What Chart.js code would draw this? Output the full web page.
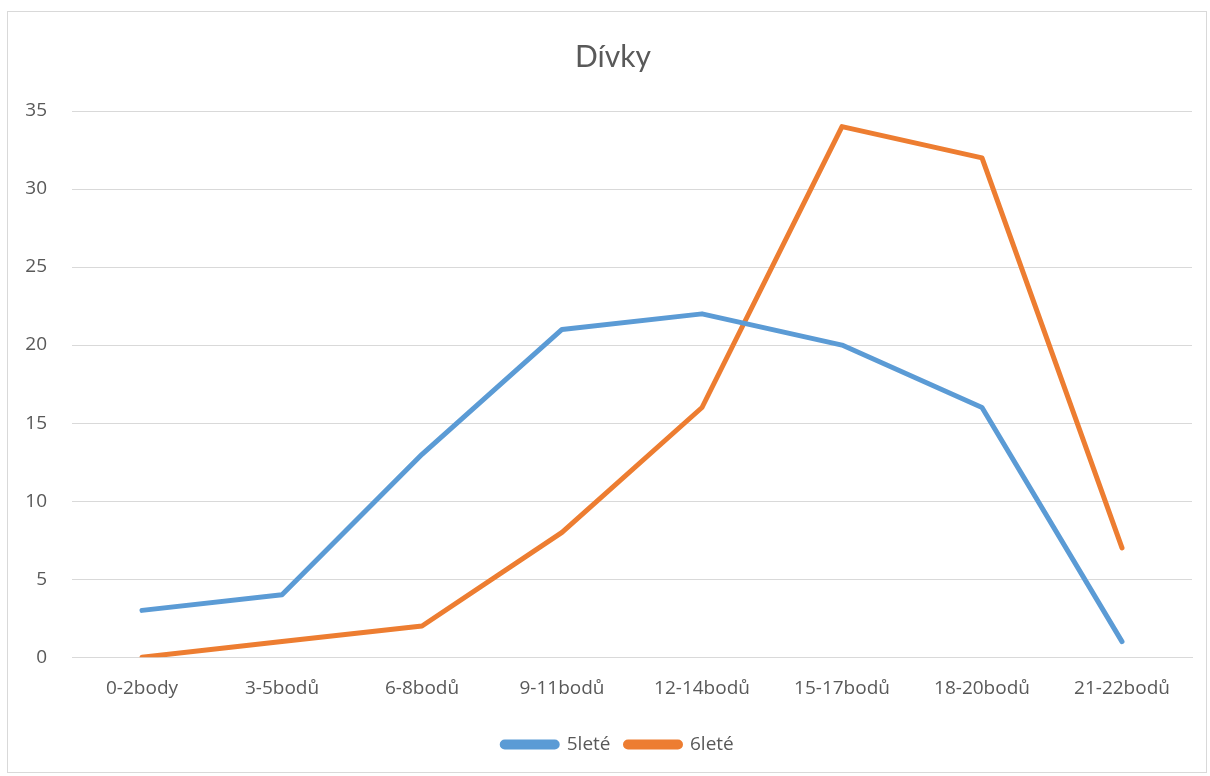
<!DOCTYPE html>
<html>
<head>
<meta charset="utf-8">
<script src="https://cdn.jsdelivr.net/npm/chart.js@4"></script>
<style>
  html, body { margin: 0; padding: 0; background: #fff; }
  #frame { position: absolute; left: 7px; top: 11px; width: 1200px; height: 762px; border: 1px solid #d9d9d9; box-sizing: border-box; }
  canvas { position: absolute; left: 0; top: 0; }
</style>
</head>
<body>
<div id="frame"></div>
<canvas id="chart" width="1210" height="776"></canvas>
<script>
const categories = ['0-2body', '3-5bodů', '6-8bodů', '9-11bodů', '12-14bodů', '15-17bodů', '18-20bodů', '21-22bodů']
const fiveYear = [3, 4, 13, 21, 22, 20, 16, 1]
const sixYear = [0, 1, 2, 8, 16, 34, 32, 7]
const yTicks = [0, 5, 10, 15, 20, 25, 30, 35]

const font = '"Open Sans", Lato, sans-serif'
const textColor = '#595959'

// title and legend sit a bit right of the canvas centre in the original
const nudge = {
  id: 'nudge',
  afterLayout(chart) {
    chart.titleBlock.left += 17
    chart.titleBlock.right += 17
    chart.legend.left += 22
    chart.legend.right += 22
  }
}

const ctx = document.getElementById('chart').getContext('2d')
new Chart(ctx, {
  type: 'line',
  data: {
    labels: categories,
    datasets: [
      { label: '5leté', data: fiveYear, borderColor: '#5b9bd5', backgroundColor: '#5b9bd5' },
      { label: '6leté', data: sixYear, borderColor: '#ed7d31', backgroundColor: '#ed7d31' }
    ]
  },
  options: {
    responsive: false,
    animation: false,
    layout: { padding: { left: 0, right: 18, top: 0, bottom: 12 } },
    elements: {
      line: { borderWidth: 5, tension: 0, borderCapStyle: 'round', borderJoinStyle: 'round' },
      point: { radius: 0, hoverRadius: 0 }
    },
    plugins: {
      title: {
        display: true,
        text: 'Dívky',
        color: textColor,
        font: { family: 'Lato, sans-serif', size: 30, weight: 'normal' },
        padding: { top: 39, bottom: 36 }
      },
      legend: {
        position: 'bottom',
        labels: {
          color: textColor,
          font: { family: font, size: 19 },
          boxWidth: 55,
          boxHeight: 5,
          padding: 15,
          useBorderRadius: true,
          borderRadius: 2.5
        }
      },
      tooltip: { enabled: false }
    },
    scales: {
      x: {
        offset: true,
        grid: { display: false, drawTicks: false },
        border: { color: '#d9d9d9', width: 1 },
        ticks: { color: textColor, font: { family: font, size: 19 }, padding: 20, maxRotation: 0 }
      },
      y: {
        min: 0,
        max: 35,
        afterFit: s => { s.width = 72 },
        afterBuildTicks: s => { s.ticks = yTicks.map(v => ({ value: v })) },
        grid: { color: '#d9d9d9', lineWidth: 1, drawTicks: false },
        border: { display: false },
        ticks: { color: textColor, font: { family: font, size: 19 }, padding: 25 }
      }
    }
  },
  plugins: [nudge]
})
</script>
</body>
</html>
